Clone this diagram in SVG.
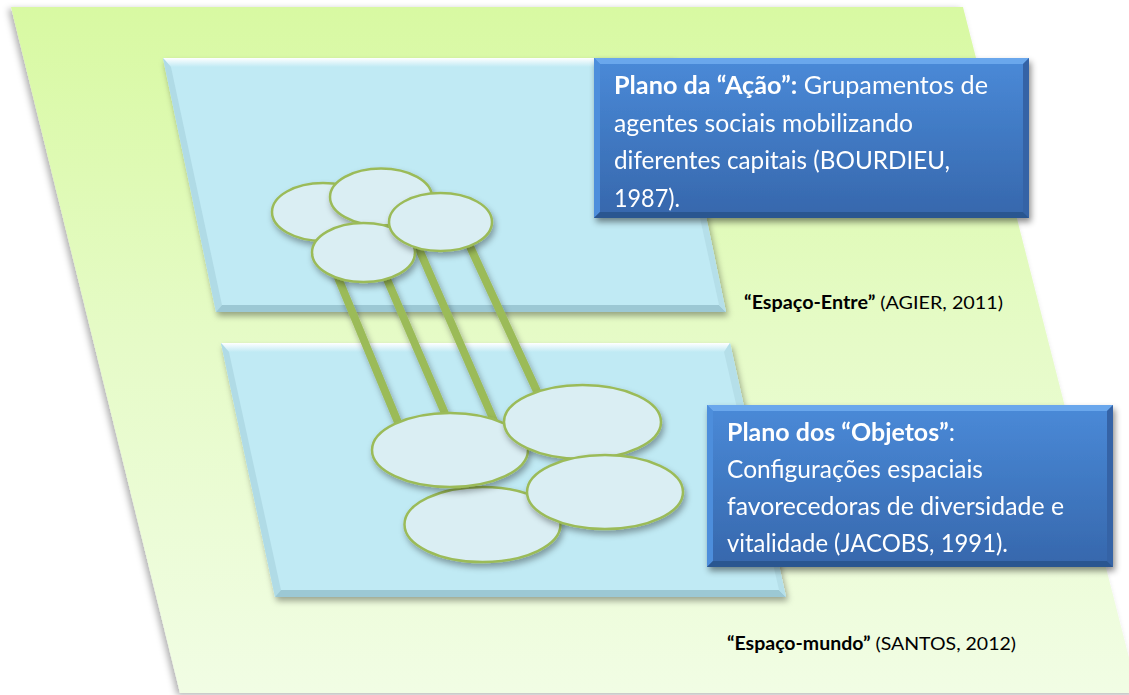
<svg xmlns="http://www.w3.org/2000/svg" width="1129" height="695" viewBox="0 0 1129 695">
  <defs>
    <linearGradient id="worldFill" x1="0" y1="0" x2="0" y2="1">
      <stop offset="0" stop-color="#d8f9a2"/>
      <stop offset="0.5" stop-color="#e6fbc8"/>
      <stop offset="1" stop-color="#f1fde4"/>
    </linearGradient>
    <linearGradient id="boxFill" x1="0" y1="0" x2="0" y2="1">
      <stop offset="0" stop-color="#4a8ad8"/>
      <stop offset="1" stop-color="#3667ac"/>
    </linearGradient>
    <linearGradient id="planeTop" x1="0" y1="0" x2="0" y2="1">
      <stop offset="0" stop-color="#ffffff"/>
      <stop offset="1" stop-color="#c0eaf4"/>
    </linearGradient>
    <filter id="softShadow" x="-10%" y="-10%" width="125%" height="130%">
      <feDropShadow dx="2" dy="4" stdDeviation="3" flood-color="#000" flood-opacity="0.35"/>
    </filter>
    <filter id="worldShadow" x="-5%" y="-5%" width="110%" height="110%">
      <feDropShadow dx="-3" dy="2" stdDeviation="3" flood-color="#000" flood-opacity="0.3"/>
    </filter>
    <filter id="boxShadow" x="-10%" y="-10%" width="125%" height="130%">
      <feDropShadow dx="2" dy="4" stdDeviation="3" flood-color="#000" flood-opacity="0.45"/>
    </filter>
  </defs>
  <style>
    .blob { fill: #daeef3; stroke: #9bbb59; stroke-width: 2.5; filter: url(#softShadow); }
    .stem { stroke: #9bbb59; stroke-width: 8; fill: none; }
    .plane { fill: #c0eaf4; }
    .bevelLeft { fill: #b0dbe6; }
    .bevelRight { fill: #b5dfe9; }
    .bevelBottom { fill: #9cc8d4; }
    .boxText { font-family: Lato, "Liberation Sans", sans-serif; font-size: 24.5px; fill: #ffffff; }
    .label { font-family: Lato, "Liberation Sans", sans-serif; font-size: 18px; fill: #000000; }
    .bold { font-weight: bold; }
  </style>

  <!-- the world surface -->
  <g id="espaco-mundo-surface">
    <polygon points="11,7 963,7 1138,693 180,693" fill="url(#worldFill)" filter="url(#worldShadow)"/>
  </g>

  <!-- upper plane: action -->
  <g id="plano-acao" filter="url(#softShadow)">
    <polygon class="plane" points="163,58 673,58 726,312 216,312"/>
    <polygon fill="url(#planeTop)" points="163,58 673,58 667,67 171,67"/>
    <polygon class="bevelLeft" points="163,58 171,67 222,305 216,312"/>
    <polygon class="bevelBottom" points="216,312 222,305 719,305 726,312"/>
    <polygon class="bevelRight" points="673,58 726,312 719,305 667,67"/>
  </g>

  <!-- lower plane: objects -->
  <g id="plano-objetos" filter="url(#softShadow)">
    <polygon class="plane" points="221,343 730,343 786,597 275,597"/>
    <polygon fill="url(#planeTop)" points="221,343 730,343 724,352 229,352"/>
    <polygon class="bevelLeft" points="221,343 229,352 281,590 275,597"/>
    <polygon class="bevelBottom" points="275,597 281,590 779,590 786,597"/>
    <polygon class="bevelRight" points="730,343 786,597 779,590 724,352"/>
  </g>

  <!-- links between the groups and the spaces -->
  <g id="connectors" filter="url(#softShadow)">
    <line class="stem" x1="334" y1="268" x2="402" y2="432"/>
    <line class="stem" x1="383" y1="270" x2="450" y2="425"/>
    <line class="stem" x1="415" y1="240" x2="498" y2="430"/>
    <line class="stem" x1="467" y1="240" x2="541" y2="400"/>
  </g>

  <!-- groups of social agents -->
  <g id="grupo-1"><ellipse class="blob" cx="323" cy="212" rx="51" ry="29"/></g>
  <g id="grupo-2"><ellipse class="blob" cx="381" cy="197" rx="51" ry="28.5"/></g>
  <g id="grupo-4"><ellipse class="blob" cx="363.5" cy="252.5" rx="51.5" ry="29.5"/></g>
  <g id="grupo-3"><ellipse class="blob" cx="440.5" cy="222" rx="51.5" ry="29"/></g>

  <!-- spatial configurations -->
  <g id="espaco-3"><ellipse class="blob" cx="482.5" cy="524.5" rx="78" ry="37.5"/></g>
  <g id="espaco-1"><ellipse class="blob" cx="450" cy="450" rx="78" ry="37"/></g>
  <g id="espaco-2"><ellipse class="blob" cx="582.5" cy="422" rx="78.5" ry="37"/></g>
  <g id="espaco-4"><ellipse class="blob" cx="605" cy="492" rx="78" ry="37"/></g>

  <!-- caption box for the action plane -->
  <g id="caixa-acao" filter="url(#boxShadow)">
    <rect x="594" y="58" width="435" height="160" fill="url(#boxFill)"/>
    <polygon points="594,58 1029,58 1023,64 600,64" fill="#6aa7ec"/>
    <polygon points="594,58 600,64 600,212 594,218" fill="#4d8edc"/>
    <polygon points="1029,58 1029,218 1023,212 1023,64" fill="#3464a6"/>
    <polygon points="594,218 600,212 1023,212 1029,218" fill="#2c5690"/>
    <text class="boxText" x="614" y="94" textLength="374" lengthAdjust="spacingAndGlyphs"><tspan class="bold">Plano da “Ação”:</tspan> Grupamentos de</text>
    <text class="boxText" x="614" y="131.5" textLength="299" lengthAdjust="spacingAndGlyphs">agentes sociais mobilizando</text>
    <text class="boxText" x="614" y="169" textLength="336" lengthAdjust="spacingAndGlyphs">diferentes capitais (BOURDIEU,</text>
    <text class="boxText" x="614" y="206.5" textLength="66" lengthAdjust="spacingAndGlyphs">1987).</text>
  </g>

  <!-- caption box for the objects plane -->
  <g id="caixa-objetos" filter="url(#boxShadow)">
    <rect x="707" y="405" width="406" height="162" fill="url(#boxFill)"/>
    <polygon points="707,405 1113,405 1107,411 713,411" fill="#6aa7ec"/>
    <polygon points="707,405 713,411 713,561 707,567" fill="#4d8edc"/>
    <polygon points="1113,405 1113,567 1107,561 1107,411" fill="#3464a6"/>
    <polygon points="707,567 713,561 1107,561 1113,567" fill="#2c5690"/>
    <text class="boxText" x="727" y="441" textLength="228" lengthAdjust="spacingAndGlyphs"><tspan class="bold">Plano dos “Objetos”</tspan>:</text>
    <text class="boxText" x="727" y="478" textLength="256" lengthAdjust="spacingAndGlyphs">Configurações espaciais</text>
    <text class="boxText" x="727" y="515" textLength="337" lengthAdjust="spacingAndGlyphs">favorecedoras de diversidade e</text>
    <text class="boxText" x="727" y="552" textLength="281" lengthAdjust="spacingAndGlyphs">vitalidade (JACOBS, 1991).</text>
  </g>

  <!-- space labels -->
  <g id="rotulo-entre">
    <text class="label" x="744" y="309" textLength="259" lengthAdjust="spacingAndGlyphs"><tspan class="bold">“Espaço-Entre”</tspan> (AGIER, 2011)</text>
  </g>
  <g id="rotulo-mundo">
    <text class="label" x="727" y="650" textLength="289" lengthAdjust="spacingAndGlyphs"><tspan class="bold">“Espaço-mundo”</tspan> (SANTOS, 2012)</text>
  </g>
</svg>
